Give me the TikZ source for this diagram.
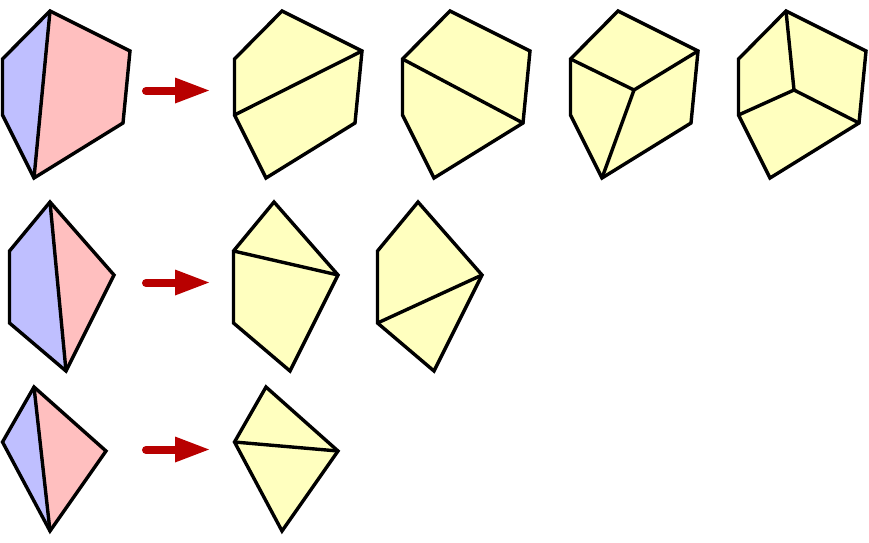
\documentclass[tikz,border=0pt]{standalone}
\begin{document}
\begin{tikzpicture}[x=1pt,y=-1pt,
  poly/.style={draw=black,line width=3.4pt,line join=miter},
  edge/.style={draw=black,line width=3.4pt,line cap=round},
  bluef/.style={fill={rgb,255:red,191;green,191;blue,255}},
  pinkf/.style={fill={rgb,255:red,255;green,191;blue,191}},
  yelf/.style={poly,fill={rgb,255:red,255;green,255;blue,191}},
  redarrow/.style={draw={rgb,255:red,184;green,0;blue,0},line width=8pt,line cap=round},
  redhead/.style={fill={rgb,255:red,184;green,0;blue,0}}]
\useasboundingbox (0,0) rectangle (869,542);

% ---------- Row 1 ----------
% source polygon
\coordinate (aT) at (50,11);
\coordinate (aR) at (130,51);
\coordinate (aRB) at (123,123);
\coordinate (aB) at (34,178);
\coordinate (aLB) at (2.5,115);
\coordinate (aLT) at (2.5,59);
\fill[bluef] (aT) -- (aLT) -- (aLB) -- (aB) -- cycle;
\fill[pinkf] (aT) -- (aR) -- (aRB) -- (aB) -- cycle;
\draw[poly] (aT) -- (aR) -- (aRB) -- (aB) -- (aLB) -- (aLT) -- cycle;
\draw[edge] (aT) -- (aB);
% arrow
\coordinate (a1s) at (146,91);
\coordinate (a1e) at (176,91);
\draw[redarrow] (a1s) -- (a1e);
\fill[redhead] (175,77.5) -- (209,90.5) -- (175,103.5) -- cycle;

% results
\foreach \dx/\nm in {232/b,400/c,568/d,736/e}{
  \begin{scope}[xshift=\dx]
    \coordinate (\nm T) at (50,11);
    \coordinate (\nm R) at (130,51);
    \coordinate (\nm RB) at (123,123);
    \coordinate (\nm B) at (34,178);
    \coordinate (\nm LB) at (2.5,115);
    \coordinate (\nm LT) at (2.5,59);
    \draw[yelf] (\nm T) -- (\nm R) -- (\nm RB) -- (\nm B) -- (\nm LB) -- (\nm LT) -- cycle;
  \end{scope}
}
\draw[edge] (bLB) -- (bR);
\draw[edge] (cLT) -- (cRB);
\coordinate (dI) at (634,90);
\draw[edge] (dLT) -- (dI) -- (dR);
\draw[edge] (dI) -- (dB);
\coordinate (eI) at (794,90);
\draw[edge] (eT) -- (eI) -- (eLB);
\draw[edge] (eI) -- (eRB);

% ---------- Row 2 ----------
\coordinate (fT) at (50,202);
\coordinate (fR) at (114,275);
\coordinate (fB) at (66,371);
\coordinate (fLB) at (9.5,323);
\coordinate (fLT) at (9.5,251);
\fill[bluef] (fT) -- (fLT) -- (fLB) -- (fB) -- cycle;
\fill[pinkf] (fT) -- (fR) -- (fB) -- cycle;
\draw[poly] (fT) -- (fR) -- (fB) -- (fLB) -- (fLT) -- cycle;
\draw[edge] (fT) -- (fB);
\coordinate (a2s) at (146,283);
\coordinate (a2e) at (176,283);
\draw[redarrow] (a2s) -- (a2e);
\fill[redhead] (175,269.5) -- (209,282.5) -- (175,295.5) -- cycle;

\foreach \dx/\nm in {224/g,368/h}{
  \begin{scope}[xshift=\dx]
    \coordinate (\nm T) at (50,202);
    \coordinate (\nm R) at (114,275);
    \coordinate (\nm B) at (66,371);
    \coordinate (\nm LB) at (9.5,323);
    \coordinate (\nm LT) at (9.5,251);
    \draw[yelf] (\nm T) -- (\nm R) -- (\nm B) -- (\nm LB) -- (\nm LT) -- cycle;
  \end{scope}
}
\draw[edge] (gLT) -- (gR);
\draw[edge] (hLB) -- (hR);

% ---------- Row 3 ----------
\coordinate (iT) at (34,387);
\coordinate (iR) at (106,451);
\coordinate (iB) at (50,531);
\coordinate (iL) at (2.5,442);
\fill[bluef] (iT) -- (iL) -- (iB) -- cycle;
\fill[pinkf] (iT) -- (iR) -- (iB) -- cycle;
\draw[poly] (iT) -- (iR) -- (iB) -- (iL) -- cycle;
\draw[edge] (iT) -- (iB);
\coordinate (a3s) at (146,450);
\coordinate (a3e) at (176,450);
\draw[redarrow] (a3s) -- (a3e);
\fill[redhead] (175,436.5) -- (209,449.5) -- (175,462.5) -- cycle;

\begin{scope}[xshift=232]
  \coordinate (jT) at (34,387);
  \coordinate (jR) at (106,451);
  \coordinate (jB) at (50,531);
  \coordinate (jL) at (2.5,442);
  \draw[yelf] (jT) -- (jR) -- (jB) -- (jL) -- cycle;
\end{scope}
\draw[edge] (jL) -- (jR);
\end{tikzpicture}
\end{document}
